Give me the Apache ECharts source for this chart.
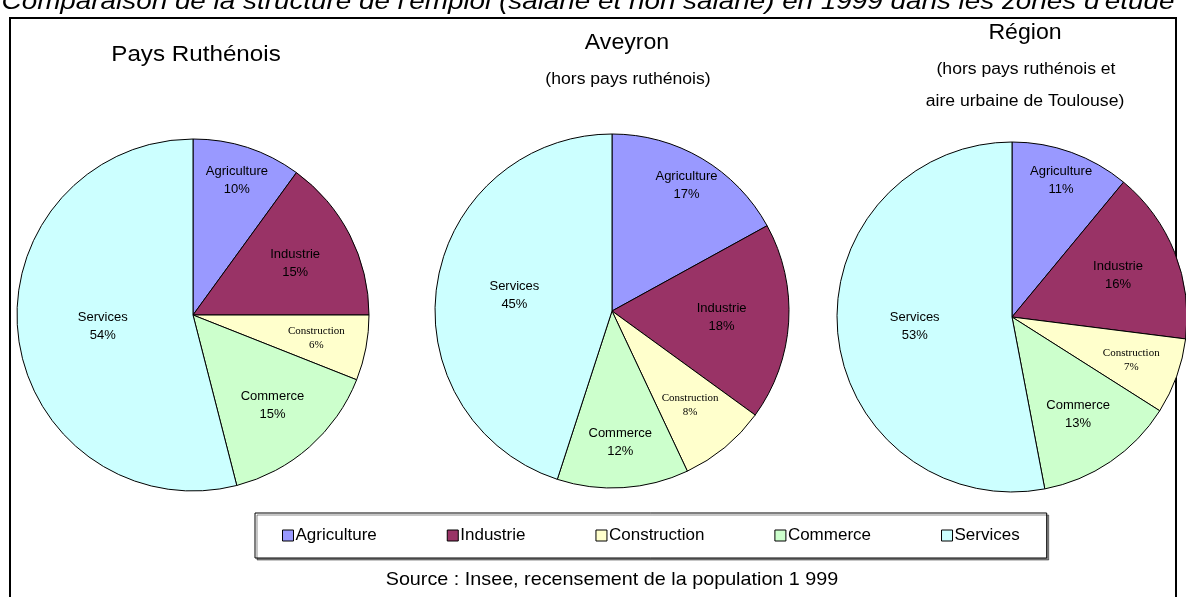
<!DOCTYPE html>
<html lang="fr">
<head>
    <meta charset="UTF-8">
    <title>Structure de l'emploi 1999</title>
    <script src="https://cdn.jsdelivr.net/npm/echarts@6.0.0/dist/echarts.min.js"></script>
    <style>
        html, body { margin: 0; padding: 0; background: #fff; }
        #main { width: 1186px; height: 597px; }
    </style>
</head>
<body>
<div id="main"></div>
<script>
    // secteurs (même ordre dans les trois camemberts)
    var categories = ['Agriculture', 'Industrie', 'Construction', 'Commerce', 'Services'];
    // parts de l'emploi en %
    var paysRuthenois = [10, 15, 6, 15, 54];
    var aveyron = [17, 18, 8, 12, 45];
    var region = [11, 16, 7, 13, 53];

    var colors = ['#9999FF', '#993366', '#FFFFCC', '#CCFFCC', '#CCFFFF'];
    var font = '"Liberation Sans", Arial, sans-serif';

    // position des étiquettes: fraction du rayon, comme dans l'original
    var labelRadius = [
        [0.78, 0.63, 0.69, 0.66, 0.50],
        [0.80, 0.60, 0.67, 0.72, 0.54],
        [0.80, 0.63, 0.70, 0.65, 0.54]
    ];
    var pies = [
        { values: paysRuthenois, center: [193, 315], r: 176 },
        { values: aveyron, center: [612, 311], r: 177 },
        { values: region, center: [1012, 317], r: 175 }
    ];

    function makeSeries(p, k) {
        return {
            type: 'pie',
            name: 'pie' + k,
            center: p.center,
            radius: p.r,
            startAngle: 90,
            clockwise: true,
            avoidLabelOverlap: false,
            silent: true,
            emphasis: { disabled: true },
            itemStyle: { borderColor: '#000', borderWidth: 1 },
            labelLine: { show: false },
            label: {
                show: true,
                position: 'inside',
                formatter: '{b}\n{c}%',
                color: '#000',
                fontFamily: font,
                fontSize: 13,
                lineHeight: 18
            },
            labelLayout: function (prm) {
                var f = labelRadius[k][prm.dataIndex];
                var lx = prm.labelRect.x + prm.labelRect.width / 2;
                var ly = prm.labelRect.y + prm.labelRect.height / 2;
                var s = f / 0.5 - 1;
                return { dx: (lx - p.center[0]) * s, dy: (ly - p.center[1]) * s };
            },
            data: categories.map(function (c, i) {
                var d = { name: c, value: p.values[i], itemStyle: { color: colors[i] } };
                if (c === 'Construction') {
                    d.label = { fontFamily: '"Liberation Serif", serif', fontSize: 11, lineHeight: 14 };
                }
                return d;
            })
        };
    }

    function txt(s, x, y, size, sx) {
        return {
            type: 'text',
            x: x,
            y: y,
            scaleX: sx || 1,
            style: {
                text: s,
                font: size + 'px ' + font,
                fill: '#000',
                align: 'center',
                verticalAlign: 'middle'
            }
        };
    }

    var chart = echarts.init(document.getElementById('main'));
    chart.setOption({
        animation: false,
        color: colors,
        legend: {
            data: categories,
            left: 255,
            top: 513,
            padding: [14, 27],
            itemGap: 70,
            itemWidth: 11,
            itemHeight: 11,
            icon: 'rect',
            selectedMode: false,
            borderColor: '#000',
            borderWidth: 1,
            backgroundColor: '#fff',
            shadowColor: 'rgba(0,0,0,0.45)',
            shadowOffsetX: 2,
            shadowOffsetY: 2,
            itemStyle: { borderColor: '#000', borderWidth: 1 },
            textStyle: { fontFamily: font, fontSize: 17, color: '#000', padding: [0, 0, 0, -3] }
        },
        graphic: [
            {
                type: 'rect',
                shape: { x: 10, y: 18, width: 1166, height: 600 },
                style: { fill: null, stroke: '#000', lineWidth: 2 },
                z: 0
            },
            txt("Comparaison de la structure de l'emploi (salarié et non salarié) en 1999 dans les zones d'étude",
                588, 2, 'italic 24', 1.16),
            txt('Pays Ruthénois', 196, 55, 22, 1.1),
            txt('Aveyron', 627, 43, 22, 1.05),
            txt('(hors pays ruthénois)', 628, 80, 16, 1.1),
            txt('Région', 1025, 33, 22, 1.05),
            txt('(hors pays ruthénois et', 1026, 70, 16, 1.1),
            txt('aire urbaine de Toulouse)', 1025, 102, 16, 1.1),
            txt('Source : Insee, recensement de la population 1 999', 612, 580, 19, 1.04)
        ],
        series: pies.map(makeSeries)
    });
</script>
</body>
</html>
